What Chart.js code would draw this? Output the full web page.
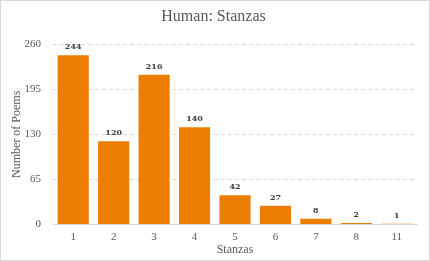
<!DOCTYPE html>
<html>
<head>
<meta charset="utf-8">
<script src="https://cdn.jsdelivr.net/npm/chart.js@4"></script>
<style>
  html, body { margin: 0; padding: 0; background: #fff; }
  #wrap { position: absolute; left: 0; top: 0; width: 428px; height: 259px; border: 1px solid #d9d9d9; }
</style>
</head>
<body>
<div id="wrap"><canvas id="chart" width="428" height="259"></canvas></div>
<script>
// 数据
const stanzas = ['1', '2', '3', '4', '5', '6', '7', '8', '11'];
const poemCounts = [244, 120, 216, 140, 42, 27, 8, 2, 1];
const yTicks = [0, 65, 130, 195, 260];

// 柱顶数字
const barLabels = {
    id: 'barLabels',
    afterDatasetsDraw(chart) {
        const ctx = chart.ctx;
        const meta = chart.getDatasetMeta(0);
        ctx.save();
        ctx.font = 'bold 8px "DejaVu Serif", serif';
        ctx.fillStyle = '#404040';
        ctx.textAlign = 'center';
        ctx.textBaseline = 'bottom';
        meta.data.forEach((bar, i) => {
            ctx.fillText(poemCounts[i], bar.x, bar.y - 4);
        });
        ctx.restore();
    }
};

const serif = '"Liberation Serif", "DejaVu Serif", serif';

new Chart(document.getElementById('chart').getContext('2d'), {
    type: 'bar',
    data: {
        labels: stanzas,
        datasets: [{
            label: 'Poems',
            data: poemCounts,
            backgroundColor: '#ed7d00',
            borderWidth: 0,
            categoryPercentage: 0.77,
            barPercentage: 1
        }]
    },
    options: {
        responsive: false,
        animation: false,
        layout: { padding: { left: 9, right: 12, top: 0, bottom: 3 } },
        plugins: {
            legend: { display: false },
            tooltip: { enabled: false },
            title: {
                display: true,
                text: 'Human: Stanzas',
                color: '#595959',
                font: { family: serif, size: 16, weight: 'normal' },
                padding: { top: 6, bottom: 18 }
            }
        },
        scales: {
            x: {
                grid: { display: false, drawTicks: false },
                border: { color: '#d9d9d9', width: 1 },
                ticks: { color: '#595959', font: { family: serif, size: 11 }, padding: 6 },
                title: {
                    display: true,
                    text: 'Stanzas',
                    color: '#595959',
                    font: { family: serif, size: 12 },
                    padding: { top: -7, bottom: 0 }
                }
            },
            y: {
                min: 0,
                max: 260,
                afterBuildTicks(axis) {
                    axis.ticks = yTicks.map(v => ({ value: v }));
                },
                afterFit(axis) {
                    axis.width = 43;
                },
                grid: { color: '#d9d9d9', drawTicks: false },
                border: { display: false, dash: [4, 3] },
                ticks: { color: '#595959', font: { family: serif, size: 11 }, padding: 12 },
                title: {
                    display: true,
                    text: 'Number of Poems',
                    color: '#595959',
                    font: { family: serif, size: 12 },
                    padding: { top: 0, bottom: 0 }
                }
            }
        }
    },
    plugins: [barLabels]
});
</script>
</body>
</html>
